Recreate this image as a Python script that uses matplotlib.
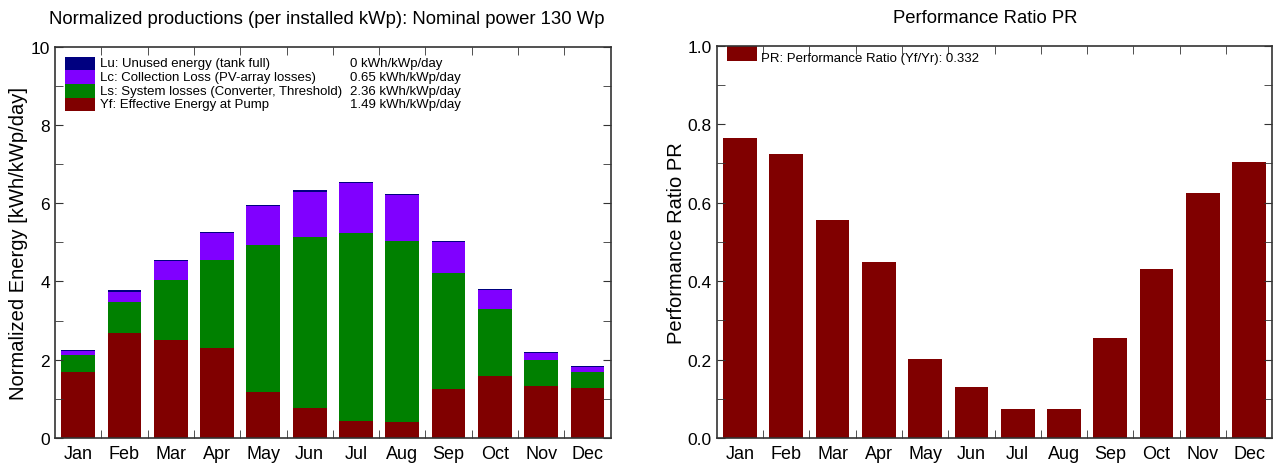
import matplotlib.pyplot as plt
from matplotlib.patches import Rectangle
from matplotlib.ticker import MultipleLocator, FixedLocator

plt.rcParams['font.family'] = ['Liberation Sans', 'DejaVu Sans']

# monthly values
months = ['Jan', 'Feb', 'Mar', 'Apr', 'May', 'Jun', 'Jul', 'Aug', 'Sep', 'Oct', 'Nov', 'Dec']
yf = [1.68, 2.68, 2.50, 2.30, 1.18, 0.76, 0.44, 0.41, 1.25, 1.59, 1.33, 1.27]
ls = [0.43, 0.80, 1.53, 2.24, 3.74, 4.39, 4.81, 4.62, 2.97, 1.70, 0.65, 0.42]
lc = [0.12, 0.26, 0.50, 0.70, 1.00, 1.15, 1.27, 1.17, 0.79, 0.49, 0.19, 0.13]
lu = [0.03, 0.03, 0.03, 0.03, 0.03, 0.03, 0.03, 0.03, 0.03, 0.03, 0.03, 0.03]
pr = [0.764, 0.723, 0.557, 0.448, 0.202, 0.129, 0.073, 0.073, 0.256, 0.432, 0.624, 0.703]

leg_labels = ['Lu: Unused energy (tank full)',
              'Lc: Collection Loss (PV-array losses)',
              'Ls: System losses (Converter, Threshold)',
              'Yf: Effective Energy at Pump']
leg_values = ['0 kWh/kWp/day', '0.65 kWh/kWp/day', '2.36 kWh/kWp/day', '1.49 kWh/kWp/day']
pr_label = 'PR: Performance Ratio (Yf/Yr): 0.332'

c_yf = '#800000'
c_ls = '#008000'
c_lc = '#8000ff'
c_lu = '#000080'
spine_col = '#333333'


# common look of both frames: inward ticks on all sides, month labels centred
def style_axes(ax):
    x = range(len(months))
    ax.set_xlim(-0.5, len(months) - 0.5)
    ax.set_xticks(list(x))
    ax.set_xticklabels(months, fontsize=13)
    ax.xaxis.set_minor_locator(FixedLocator([i + 0.5 for i in range(len(months) - 1)]))
    ax.tick_params(axis='x', which='major', length=0, pad=5)
    ax.tick_params(axis='x', which='minor', direction='in', length=6, top=True, bottom=True,
                   color=spine_col)
    ax.tick_params(axis='y', which='both', direction='in', left=True, right=True,
                   length=6, color=spine_col, labelsize=12.5)
    for s in ax.spines.values():
        s.set_color(spine_col)
        s.set_linewidth(1.2)


fig = plt.figure(figsize=(12.8, 4.64), dpi=100)

# left: normalized productions
ax1 = fig.add_axes([0.043, 0.054, 0.434, 0.843])
x = range(len(months))
w = 0.73
b2 = [a + b for a, b in zip(yf, ls)]
b3 = [a + b for a, b in zip(b2, lc)]
ax1.bar(x, yf, w, color=c_yf)
ax1.bar(x, ls, w, bottom=yf, color=c_ls)
ax1.bar(x, lc, w, bottom=b2, color=c_lc)
ax1.bar(x, lu, w, bottom=b3, color=c_lu)
ax1.set_ylim(0, 10)
ax1.yaxis.set_major_locator(MultipleLocator(2))
ax1.yaxis.set_minor_locator(MultipleLocator(1))
style_axes(ax1)
ax1.set_ylabel('Normalized Energy [kWh/kWp/day]', fontsize=14.5, labelpad=2)
ax1.set_title('Normalized productions (per installed kWp): Nominal power 130 Wp',
              fontsize=13.3, pad=17, x=0.49)

# legend drawn as stacked colour boxes with a value column
box_h = 0.035
top = 0.975
for i, (lab, val, col) in enumerate(zip(leg_labels, leg_values, [c_lu, c_lc, c_ls, c_yf])):
    y0 = top - (i + 1) * box_h
    ax1.add_patch(Rectangle((0.018, y0), 0.054, box_h, transform=ax1.transAxes,
                            facecolor=col, edgecolor='none'))
    ax1.text(0.081, y0 + box_h / 2, lab, transform=ax1.transAxes, fontsize=9.5,
             va='center', ha='left')
    ax1.text(0.531, y0 + box_h / 2, val, transform=ax1.transAxes, fontsize=9.5,
             va='center', ha='left')

# right: performance ratio
ax2 = fig.add_axes([0.560, 0.054, 0.434, 0.845])
ax2.bar(x, pr, w, color=c_yf)
ax2.set_ylim(0, 1.0)
ax2.yaxis.set_major_locator(MultipleLocator(0.2))
ax2.yaxis.set_minor_locator(MultipleLocator(0.1))
ax2.yaxis.set_major_formatter(plt.FormatStrFormatter('%.1f'))
style_axes(ax2)
ax2.set_ylabel('Performance Ratio PR', fontsize=14.5, labelpad=1)
ax2.set_title('Performance Ratio PR', fontsize=13.3, pad=17, x=0.484)

ax2.add_patch(Rectangle((0.018, 0.961), 0.054, 0.038, transform=ax2.transAxes,
                        facecolor=c_yf, edgecolor='none'))
ax2.text(0.08, 0.968, pr_label, transform=ax2.transAxes, fontsize=9.5,
         va='center', ha='left')

fig.savefig('out.png', dpi=100)
